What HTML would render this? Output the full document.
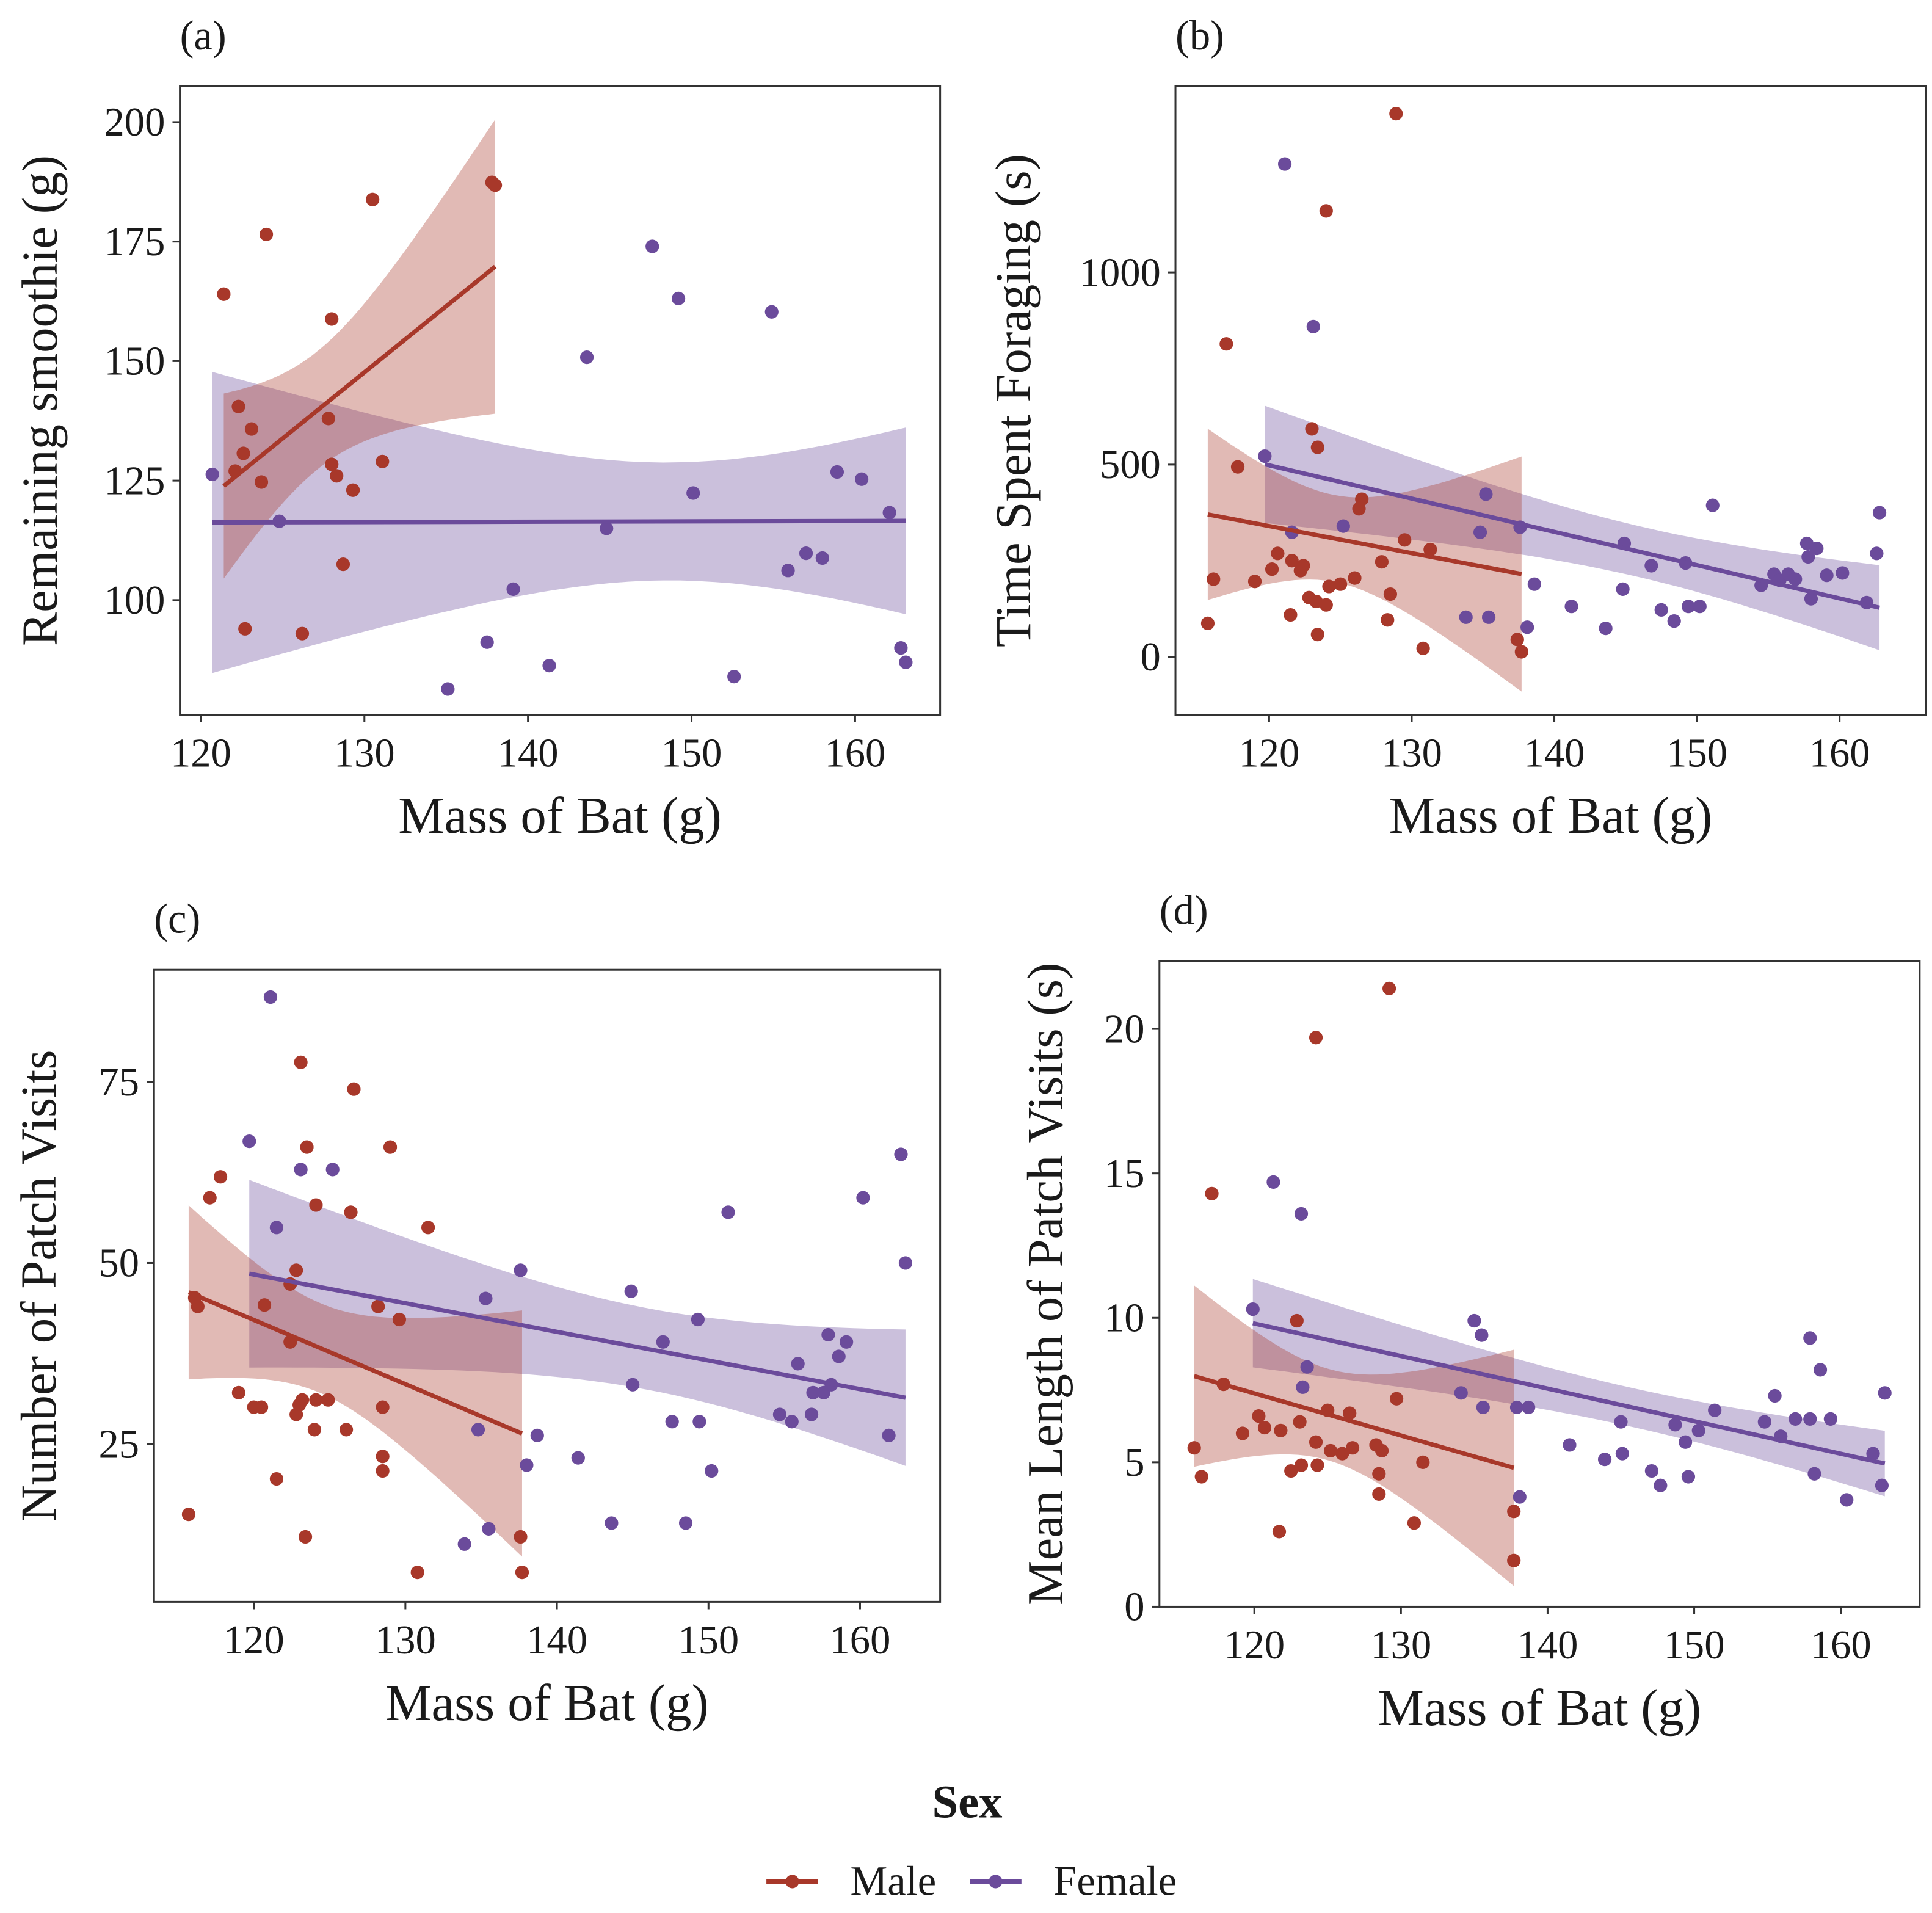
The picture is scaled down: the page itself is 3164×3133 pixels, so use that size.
<!DOCTYPE html>
<html><head><meta charset="utf-8"><style>
html,body{margin:0;padding:0;background:#fff}
svg text{font-family:"Liberation Serif",serif;fill:#1a1a1a}
</style></head><body>
<svg id="chart" width="3164" height="3128" viewBox="0 0 1568 1550" xmlns="http://www.w3.org/2000/svg"></svg>
<script>
// ---- data ----
const aMaleMass=[121.4,124,130.5,137.8,138,128,122.3,123.1,122.6,122.1,123.7,127.8,128,128.3,129.3,131.1,128.7,122.7,126.2];
const aMaleVal=[164,176.5,183.8,187.4,186.8,158.8,140.5,135.8,130.7,127,124.7,138,128.4,126,123,129,107.5,94,93];
const aFemMass=[120.7,124.8,143.6,147.6,149.2,154.9,150.1,144.8,158.9,160.4,162.1,155.9,157,158,139.1,137.5,141.3,135.1,152.6,162.8,163.1];
const aFemVal=[126.3,116.5,150.8,174,163.1,160.3,122.4,115,126.8,125.3,118.3,106.2,109.8,108.8,102.3,91.2,86.3,81.4,84,90,87];
const bMaleMass=[128.9,124,117,123,123.4,117.8,126.5,126.3,129.5,131.3,116.1,119,120.2,120.6,121.6,122.2,122.4,124.2,125,126,127.9,122.8,123.3,124,121.5,128.5,128.3,123.4,130.8,115.7,137.4,137.7];
const bMaleVal=[1413,1160,814,593,545,494,410,385,304,279,202,196,228,269,250,224,237,183,189,205,247,154,144,135,109,163,96,58,22,87,45,13];
const bFemMass=[121.1,123.1,119.7,135.2,134.8,137.6,125.2,121.6,138.6,138.1,133.8,135.4,141.2,144.9,146.8,149.2,151.1,144.8,143.6,147.5,148.4,149.4,150.2,154.5,155.4,155.8,156.4,156.9,157.7,157.8,158.4,158,159.1,160.2,161.9,162.6,162.8];
const bFemVal=[1282,859,522,423,324,337,340,324,189,77,103,103,131,295,237,244,394,176,74,122,93,131,131,186,215,199,215,202,295,260,282,151,212,218,141,269,375];
const cMaleMass=[123.1,126.6,129,123.5,131.5,117.8,117.1,124.1,126.4,116.3,116.1,122.8,122.4,120.7,122.4,128.2,129.6,119,120,120.5,122.8,123,123.2,124.1,124.9,128.5,124,126.1,128.5,128.5,121.5,115.7,123.4,137.6,130.8,137.7];
const cMaleVal=[77.7,74,66,66,54.9,61.9,59,58,57,44,45.2,49,47.1,44.2,39.1,44,42.2,32.1,30.1,30.1,29.1,30.4,31.1,31.1,31.1,30.1,27,27,23.3,21.3,20.2,15.3,12.2,12.2,7.3,7.3];
const cFemMass=[121.1,119.7,123.1,125.2,121.5,137.6,135.3,134.8,138.7,138,141.4,143.6,135.5,133.9,144.9,145,147,149.3,149.4,147.6,150.2,148.5,151.3,155.9,154.7,155.5,156.8,156.9,157.6,158.1,157.9,159.1,158.6,160.2,161.9,162.7,163];
const cFemVal=[86.7,66.8,62.9,62.9,54.9,49,45.1,27,26.2,22.1,23.1,14.1,13.3,11.2,46.1,33.2,39.1,42.2,28.1,28.1,21.3,14.1,57,36.1,29.1,28.1,29.1,32.1,32.1,33.2,40.1,39.1,37.1,59,26.2,65,50];
const dMaleMass=[129.2,124.2,117.1,117.9,122.9,129.7,119.2,120.3,120.7,121.8,123.1,125,126.5,124.2,122.5,123.2,124.3,125.2,126,126.7,128.3,128.7,131.5,115.9,116.4,128.5,128.5,121.7,130.9,137.7,137.7];
const dMaleVal=[21.4,19.7,14.3,7.7,9.9,7.2,6.0,6.6,6.2,6.1,6.4,6.8,6.7,5.7,4.7,4.9,4.9,5.4,5.3,5.5,5.6,5.4,5.0,5.5,4.5,4.6,3.9,2.6,2.9,3.3,1.6];
const dFemMass=[121.3,123.2,119.9,135,135.5,123.6,123.3,134.1,135.6,137.9,138.7,138.1,141.5,145,145.1,143.9,147.1,147.7,148.7,149.4,150.3,149.6,151.4,154.8,155.5,155.9,156.9,157.9,157.9,158.6,159.3,158.2,160.4,162.2,163,162.8];
const dFemVal=[14.7,13.6,10.3,9.9,9.4,8.3,7.6,7.4,6.9,6.9,6.9,3.8,5.6,6.4,5.3,5.1,4.7,4.2,6.3,5.7,6.1,4.5,6.8,6.4,7.3,5.9,6.5,9.3,6.5,8.2,6.5,4.6,3.7,5.3,7.4,4.2];
const aYTicks=[100,125,150,175,200];
const bYTicks=[0,500,1000];
const cYTicks=[25,50,75];
const dYTicks=[0,5,10,15,20];
const aXTicks=[120,130,140,150,160];
const bXTicks=[120,130,140,150,160];
const cXTicks=[120,130,140,150,160];
const dXTicks=[120,130,140,150,160];

const NS="http://www.w3.org/2000/svg";
const svg=document.getElementById('chart');
const MALE="#a8382a", FEM="#6b4b9b";
function mk(tag,attrs,parent){const e=document.createElementNS(NS,tag);for(const k in attrs)e.setAttribute(k,attrs[k]);(parent||svg).appendChild(e);return e;}
function lin(d0,d1,r0,r1){return v=>r0+(v-d0)*(r1-r0)/(d1-d0);}

function fit(xs,ys){const n=xs.length;const mx=xs.reduce((a,b)=>a+b)/n,my=ys.reduce((a,b)=>a+b)/n;
 let sxx=0,sxy=0;for(let i=0;i<n;i++){sxx+=(xs[i]-mx)**2;sxy+=(xs[i]-mx)*(ys[i]-my);}
 const b=sxy/sxx,a=my-b*mx;let sse=0;for(let i=0;i<n;i++)sse+=(ys[i]-a-b*xs[i])**2;
 const s=Math.sqrt(sse/(n-2));return {a,b,s,n,mx,sxx,min:Math.min(...xs),max:Math.max(...xs)};}

function panel(p){
 const g=mk('g',{});
 
 
 const X=p.x,Y=p.y;
 const groups=[[p.fm,p.fv,FEM,'female'],[p.mm,p.mv,MALE,'male']];
 groups.forEach(([xs,ys,col,nm])=>{
  const f=fit(xs,ys);const N=40,up=[],lo=[];
  for(let i=0;i<=N;i++){const x=f.min+(f.max-f.min)*i/N;const yh=f.a+f.b*x;
   const se=f.s*Math.sqrt(1/f.n+(x-f.mx)**2/f.sxx)*2.03;
   up.push(X(x).toFixed(1)+','+Y(yh+se).toFixed(1));lo.unshift(X(x).toFixed(1)+','+Y(yh-se).toFixed(1));}
  const band=mk('polygon',{points:up.concat(lo).join(' '),fill:col,'fill-opacity':0.35},g);
  
  
 });
 groups.forEach(([xs,ys,col,nm])=>{
  xs.forEach((m,i)=>{const c=mk('circle',{cx:X(m),cy:Y(ys[i]),r:5.5,fill:col},g);
   
   });
 });
 groups.forEach(([xs,ys,col,nm])=>{
  const f=fit(xs,ys);
  const l=mk('line',{x1:X(f.min),y1:Y(f.a+f.b*f.min),x2:X(f.max),y2:Y(f.a+f.b*f.max),stroke:col,'stroke-width':3.5},g);
  
  
 });
 const b=p.box;
 const r=mk('rect',{x:b[0],y:b[1],width:b[2]-b[0],height:b[3]-b[1],fill:'none',stroke:'#333','stroke-width':1.5},g);
 
 
 p.yt.forEach(v=>{const yy=Y(v);mk('line',{x1:b[0]-6,x2:b[0],y1:yy,y2:yy,stroke:'#333','stroke-width':1.5},g);
  const t=mk('text',{x:b[0]-12,y:yy+11,'text-anchor':'end','font-size':33,fill:'#4d4d4d'},g);t.textContent=v;
  
  });
 p.xt.forEach(v=>{const xx=X(v);mk('line',{x1:xx,x2:xx,y1:b[3],y2:b[3]+6,stroke:'#333','stroke-width':1.5},g);
  const t=mk('text',{x:xx,y:b[3]+42,'text-anchor':'middle','font-size':33,fill:'#4d4d4d'},g);t.textContent=v;
  
  });
 const xt=mk('text',{x:(b[0]+b[2])/2,y:b[3]+96,'text-anchor':'middle','font-size':42},g);xt.textContent='Mass of Bat (g)';
 
 
 const yt=mk('text',{x:0,y:0,'text-anchor':'middle','font-size':41,transform:`translate(${p.ytx},${(b[1]+b[3])/2}) rotate(-90)`},g);yt.textContent=p.ylab;
 
 
 const lt=mk('text',{x:b[0],y:b[1]-30,'font-size':34},g);lt.textContent=p.tag;
 
 
}
panel({name:'panel-a',box:[146,70,763,580],x:lin(120,160,163,694),y:lin(100,200,487,99),mm:aMaleMass,mv:aMaleVal,fm:aFemMass,fv:aFemVal,yt:aYTicks,xt:aXTicks,ylab:'Remaining smoothie (g)',ytx:46,tag:'(a)'});
panel({name:'panel-b',box:[954,70,1563,580],x:lin(120,160,1030,1493),y:lin(0,1000,533,221),mm:bMaleMass,mv:bMaleVal,fm:bFemMass,fv:bFemVal,yt:bYTicks,xt:bXTicks,ylab:'Time Spent Foraging (s)',ytx:836,tag:'(b)'});
panel({name:'panel-c',box:[125,787,763,1300],x:lin(120,160,206,698),y:lin(25,75,1172,878),mm:cMaleMass,mv:cMaleVal,fm:cFemMass,fv:cFemVal,yt:cYTicks,xt:cXTicks,ylab:'Number of Patch Visits',ytx:45,tag:'(c)'});
panel({name:'panel-d',box:[941,780,1558,1304],x:lin(120,160,1018,1494),y:lin(0,20,1304,835),mm:dMaleMass,mv:dMaleVal,fm:dFemMass,fv:dFemVal,yt:dYTicks,xt:dXTicks,ylab:'Mean Length of Patch Visits (s)',ytx:862,tag:'(d)'});

// legend
const lg=mk('g',{});


const lt=mk('text',{x:785,y:1475,'text-anchor':'middle','font-size':38,'font-weight':'bold'},lg);lt.textContent='Sex';


[[622,MALE,'Male'],[787,FEM,'Female']].forEach(([x0,col,lab])=>{
 const e=mk('g',{},lg);
 
 
 mk('line',{x1:x0,x2:x0+42,y1:1527,y2:1527,stroke:col,'stroke-width':3.5},e);
 mk('circle',{cx:x0+21,cy:1527,r:5.5,fill:col},e);
 const t=mk('text',{x:x0+68,y:1538,'font-size':34},e);t.textContent=lab;
});
</script>
</body></html>
